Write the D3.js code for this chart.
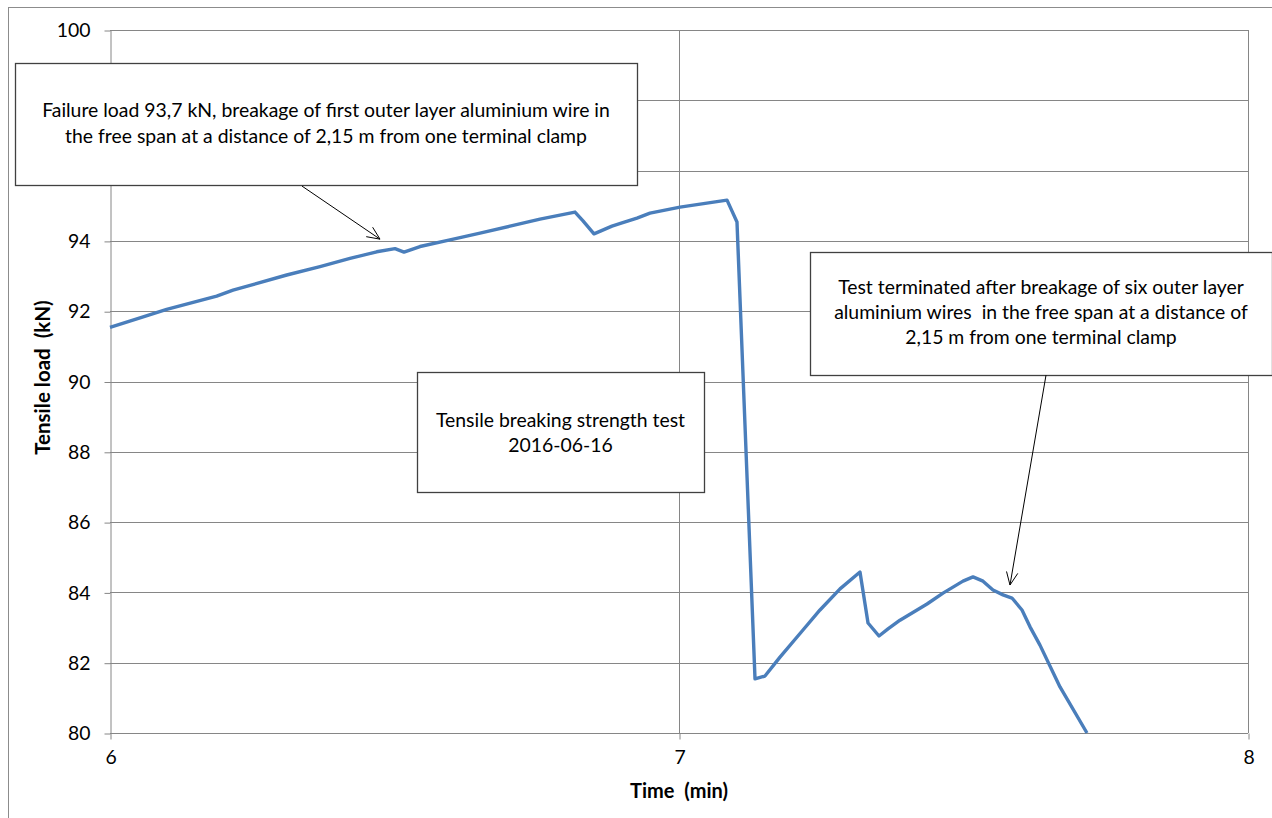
<!DOCTYPE html>
<html>
<head>
<meta charset="utf-8">
<script src="https://cdn.jsdelivr.net/npm/d3@7"></script>
<style>
  html, body { margin: 0; padding: 0; background: #fff; }
  svg { display: block; font-family: Lato, "Open Sans", sans-serif; }
  text { white-space: pre; }
</style>
</head>
<body>
<svg id="chart" width="1272" height="818"></svg>
<script>
// Tensile load record during the breaking strength test
const timeMin = [
  6.000, 6.0527, 6.0996, 6.1875, 6.2162, 6.3106, 6.3691, 6.4218, 6.4687, 6.5009,
  6.5167, 6.5448, 6.5975, 6.6503, 6.7030, 6.7557, 6.8172, 6.8313, 6.8506, 6.8822,
  6.8998, 6.9262, 6.9490, 7.0018, 7.0844, 7.1019, 7.1336, 7.1511, 7.1775, 7.2179,
  7.2478, 7.2830, 7.3181, 7.3322, 7.3515, 7.3673, 7.3884, 7.4359, 7.4640, 7.4991,
  7.5167, 7.5343, 7.5518, 7.5694, 7.5852, 7.6028, 7.6169, 7.6344, 7.6696, 7.7170
];
const loadKN = [
  91.54, 91.81, 92.05, 92.43, 92.60, 93.03, 93.27, 93.50, 93.69, 93.78,
  93.68, 93.84, 94.03, 94.22, 94.42, 94.62, 94.82, 94.57, 94.20, 94.42,
  94.51, 94.65, 94.79, 94.96, 95.16, 94.54, 81.54, 81.62, 82.16, 82.93,
  83.50, 84.10, 84.58, 83.13, 82.76, 82.96, 83.21, 83.67, 83.98, 84.32,
  84.44, 84.32, 84.07, 83.93, 83.84, 83.50, 83.02, 82.50, 81.31, 80.00
];
const xTicks = [6, 7, 8];
const yTicks = [80, 82, 84, 86, 88, 90, 92, 94, 96, 98, 100];

const xTitle = "Time  (min)";
const yTitle = "Tensile load  (kN)";

// Annotation texts and the points their arrows mark (time, load)
const noteFailure = [
  "Failure load 93,7 kN, breakage of first outer layer aluminium wire in",
  "the free span at a distance of 2,15 m from one terminal clamp"
];
const noteTitle = ["Tensile breaking strength test", "2016-06-16"];
const noteEnd = [
  "Test terminated after breakage of six outer layer",
  "aluminium wires  in the free span at a distance of",
  "2,15 m from one terminal clamp"
];
const arrowFailure = [[6.3374, 95.56], [6.4745, 94.05]];
const arrowEnd = [[7.6450, 90.18], [7.5817, 84.21]];

const svg = d3.select("#chart");
const plotL = 110, plotR = 1248, plotT = 30, plotB = 733;
const x = d3.scaleLinear().domain([6, 8]).range([plotL, plotR]);
const y = d3.scaleLinear().domain([80, 100]).range([plotB, plotT]);

const gridColor = "#868686";
const fontSize = "19.4px";

// annotation box frames (pixels): x, y, width, height
const failureBox = [15, 63, 622, 122];
const titleBox = [417, 372, 287, 120];
const endBox = [810, 252, 462, 123];

// chart frame
svg.append("rect")
  .attr("x", 8.5).attr("y", 7.5).attr("width", 1272).attr("height", 830)
  .attr("fill", "none").attr("stroke", "#8c8c8c").attr("stroke-width", 1);

// horizontal grid
svg.append("g").selectAll("line").data(yTicks).join("line")
  .attr("x1", plotL).attr("x2", plotR)
  .attr("y1", d => Math.round(y(d)) + 0.5).attr("y2", d => Math.round(y(d)) + 0.5)
  .attr("stroke", gridColor).attr("stroke-width", 1);

// vertical grid
svg.append("g").selectAll("line").data(xTicks.slice(1)).join("line")
  .attr("x1", d => Math.round(x(d)) + 0.5).attr("x2", d => Math.round(x(d)) + 0.5)
  .attr("y1", plotT).attr("y2", plotB)
  .attr("stroke", gridColor).attr("stroke-width", 1);

// axes
const yAxis = svg.append("g")
  .attr("transform", `translate(${plotL + 0.5},0.5)`)
  .call(d3.axisLeft(y).tickValues(yTicks).tickSize(6).tickSizeOuter(0).tickPadding(14).tickFormat(d3.format("d")));
const xAxis = svg.append("g")
  .attr("transform", `translate(0.5,${plotB + 0.5})`)
  .call(d3.axisBottom(x).tickValues(xTicks).tickSize(6).tickSizeOuter(0).tickPadding(11).tickFormat(d3.format("d")));
[yAxis, xAxis].forEach(g => {
  g.selectAll("path, line").attr("stroke", gridColor);
  g.selectAll("text").attr("fill", "#000").style("font-size", fontSize)
    .style("font-family", "Lato, 'Open Sans', sans-serif");
});
xAxis.select("path").remove();
// tick labels that sit underneath the first note box are covered by it
yAxis.selectAll(".tick")
  .filter(d => y(d) > failureBox[1] && y(d) < failureBox[1] + failureBox[3])
  .select("text").remove();

// axis titles
svg.append("text")
  .attr("x", (plotL + plotR) / 2).attr("y", 798)
  .attr("text-anchor", "middle")
  .style("font-size", "20px").style("font-weight", "bold")
  .text(xTitle);
svg.append("text")
  .attr("transform", `translate(50,${(plotT + plotB) / 2 - 4}) rotate(-90)`)
  .attr("text-anchor", "middle")
  .style("font-size", "20.5px").style("font-weight", "bold")
  .text(yTitle);

// load curve
const data = timeMin.map((t, i) => [t, loadKN[i]]);
svg.append("path")
  .datum(data)
  .attr("fill", "none")
  .attr("stroke", "#4a7ebb")
  .attr("stroke-width", 3.4)
  .attr("stroke-linejoin", "round")
  .attr("d", d3.line().x(d => x(d[0])).y(d => y(d[1])));

// annotation boxes
function noteBox(box, lines, lineGap, firstY) {
  const [bx, by, bw, bh] = box;
  svg.append("rect")
    .attr("x", bx + 0.5).attr("y", by + 0.5).attr("width", bw).attr("height", bh)
    .attr("fill", "#fff").attr("stroke", "#404040").attr("stroke-width", 1.3);
  svg.append("g").selectAll("text").data(lines).join("text")
    .attr("x", bx + bw / 2)
    .attr("y", (d, i) => firstY + i * lineGap)
    .attr("text-anchor", "middle")
    .attr("dominant-baseline", "middle")
    .style("font-size", fontSize)
    .text(d => d);
}
noteBox(failureBox, noteFailure, 26, 112);
noteBox(titleBox, noteTitle, 25, 422);
noteBox(endBox, noteEnd, 25, 289);

// arrows
function arrow(pts) {
  const [x0, y0] = [x(pts[0][0]), y(pts[0][1])];
  const [x1, y1] = [x(pts[1][0]), y(pts[1][1])];
  const ang = Math.atan2(y1 - y0, x1 - x0);
  const len = 14, spread = 0.42;
  svg.append("line")
    .attr("x1", x0).attr("y1", y0).attr("x2", x1).attr("y2", y1)
    .attr("stroke", "#000").attr("stroke-width", 1);
  const head = [
    [x1 - len * Math.cos(ang - spread), y1 - len * Math.sin(ang - spread)],
    [x1, y1],
    [x1 - len * Math.cos(ang + spread), y1 - len * Math.sin(ang + spread)]
  ];
  svg.append("path")
    .attr("d", d3.line()(head))
    .attr("fill", "none").attr("stroke", "#000").attr("stroke-width", 1);
}
arrow(arrowFailure);
arrow(arrowEnd);
</script>
</body>
</html>
